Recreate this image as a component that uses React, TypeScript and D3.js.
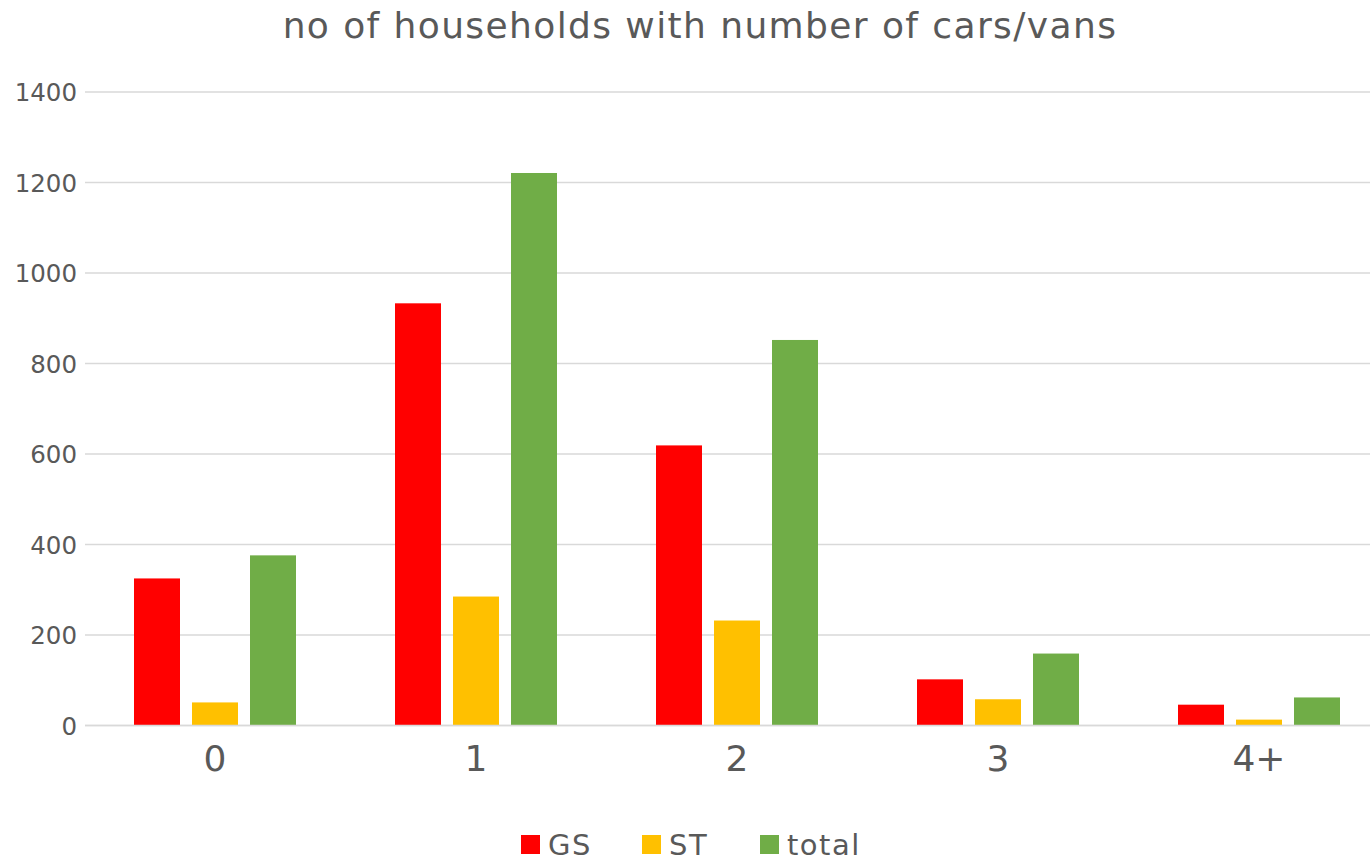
import React, { useEffect, useRef } from "react";
import * as d3 from "d3";

const categories = ["0", "1", "2", "3", "4+"];
const seriesNames = ["GS", "ST", "total"];
const seriesColors = ["#ff0000", "#ffc000", "#70ad47"];
const gsValues = [325, 933, 619, 102, 46];
const stValues = [51, 285, 232, 58, 13];
const totalValues = [376, 1221, 852, 159, 62];
const yTicks = [0, 200, 400, 600, 800, 1000, 1200, 1400];

const W = 1370;
const H = 861;
const textColor = "#595959";
const font = "'DejaVu Sans', Verdana, sans-serif";

function Chart() {
  const ref = useRef<SVGSVGElement>(null);

  useEffect(() => {
    const svg = d3.select(ref.current);
    svg.selectAll("*").remove();

    const allSeries = [gsValues, stValues, totalValues];

    const x0 = d3.scaleBand().domain(categories).range([84.5, 1389.5]).padding(0);
    const x1 = d3.scaleBand().domain(seriesNames).range([49.5, 211.5]).paddingInner(0.207).paddingOuter(0);
    const y = d3.scaleLinear().domain([0, 1400]).range([725.5, 92]);

    // title
    svg.append("text")
      .attr("x", 700)
      .attr("y", 38)
      .attr("text-anchor", "middle")
      .style("font", "36px " + font)
      .style("letter-spacing", "1.4px")
      .style("fill", textColor)
      .text("no of households with number of cars/vans");

    // gridlines
    svg.append("g")
      .selectAll("line")
      .data(yTicks)
      .enter()
      .append("line")
      .attr("x1", 85)
      .attr("x2", W)
      .attr("y1", (d) => y(d))
      .attr("y2", (d) => y(d))
      .style("stroke", "#d9d9d9")
      .style("stroke-width", 1.5);

    // y labels
    svg.append("g")
      .selectAll("text")
      .data(yTicks)
      .enter()
      .append("text")
      .attr("x", 77)
      .attr("y", (d) => y(d) + 9)
      .attr("text-anchor", "end")
      .style("font", "24.5px " + font)
      .style("fill", textColor)
      .text((d) => d);

    // bars
    const groups = svg.append("g")
      .selectAll("g")
      .data(categories)
      .enter()
      .append("g")
      .attr("transform", (d) => "translate(" + x0(d) + ",0)");

    groups.selectAll("rect")
      .data((d, i) => seriesNames.map((s, j) => ({ s: s, v: allSeries[j][i], c: seriesColors[j] })))
      .enter()
      .append("rect")
      .attr("x", (d) => x1(d.s) as number)
      .attr("width", x1.bandwidth())
      .attr("y", (d) => y(d.v))
      .attr("height", (d) => y(0) - y(d.v))
      .style("fill", (d) => d.c);

    // zero line over bars
    svg.append("line")
      .attr("x1", 85)
      .attr("x2", W)
      .attr("y1", y(0))
      .attr("y2", y(0))
      .style("stroke", "#d9d9d9")
      .style("stroke-width", 1.5);

    // x labels
    svg.append("g")
      .selectAll("text")
      .data(categories)
      .enter()
      .append("text")
      .attr("x", (d) => (x0(d) as number) + x0.bandwidth() / 2)
      .attr("y", 771)
      .attr("text-anchor", "middle")
      .style("font", "36px " + font)
      .style("fill", textColor)
      .text((d) => d);

    // legend
    const legendX = [521, 642, 760];
    const legend = svg.append("g")
      .selectAll("g")
      .data(seriesNames)
      .enter()
      .append("g")
      .attr("transform", (d, i) => "translate(" + legendX[i] + ",835)");
    legend.append("rect")
      .attr("width", 19)
      .attr("height", 19)
      .style("fill", (d, i) => seriesColors[i]);
    legend.append("text")
      .attr("x", 27)
      .attr("y", 20)
      .style("font", "29px " + font)
      .style("letter-spacing", "1.5px")
      .style("fill", textColor)
      .text((d) => d);
  }, []);

  return <svg ref={ref} width={W} height={H} style={{ display: "block", background: "#fff" }} />;
}

export default function App() {
  useEffect(() => {
    document.body.style.margin = "0";
  }, []);
  return <Chart />;
}
